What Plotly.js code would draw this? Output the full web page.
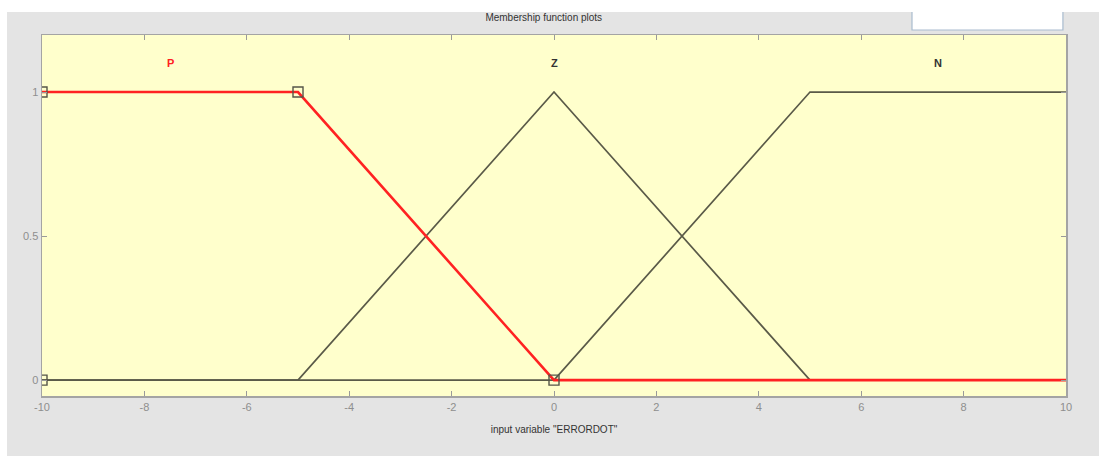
<!DOCTYPE html>
<html>
<head>
<meta charset="utf-8">
<script src="https://cdn.plot.ly/plotly-3.0.1.min.js"></script>
<style>
  html, body { margin: 0; padding: 0; background: #ffffff; width: 1099px; height: 456px; overflow: hidden; }
  #chart { position: absolute; left: 7px; top: 12px; width: 1092px; height: 444px; }
</style>
</head>
<body>
<div id="chart"></div>
<script>
// Membership functions of input variable "ERRORDOT"
const mfNames = ["P", "Z", "N"];
const xP = [-10, -5, 0, 10];
const yP = [1, 1, 0, 0];
const xZ = [-10, -5, 0, 5, 10];
const yZ = [0, 0, 1, 0, 0];
const xN = [-10, 0, 5, 10];
const yN = [0, 0, 1, 1];
// parameter handles of the selected MF (P)
const handleX = [-10, -10, -5, 0];
const handleY = [0, 1, 1, 0];
// label positions
const labelX = [-7.5, 0, 7.5];
const labelY = [1.1, 1.1, 1.1];
const xTicks = [-10, -8, -6, -4, -2, 0, 2, 4, 6, 8, 10];
const yTicks = [0, 0.5, 1];
const yTickText = ["0", "0.5", "1"];

const grey = "#5a5a48";
const traces = [
  { x: xZ, y: yZ, mode: "lines", line: { color: grey, width: 1.7 }, hoverinfo: "skip" },
  { x: xN, y: yN, mode: "lines", line: { color: grey, width: 1.7 }, hoverinfo: "skip" },
  { x: xP, y: yP, mode: "lines", line: { color: "#ff2222", width: 2.6 }, hoverinfo: "skip" },
  { x: handleX, y: handleY, mode: "markers", cliponaxis: true,
    marker: { symbol: "square-open", size: 10, color: "#555548", line: { width: 1.4, color: "#555548" } }, hoverinfo: "skip" }
];

const annotations = mfNames.map((n, i) => ({
  x: labelX[i], y: labelY[i], xref: "x", yref: "y", text: "<b>" + n + "</b>", showarrow: false,
  font: { family: "Liberation Sans, Arial, sans-serif", size: 11, color: i === 0 ? "#ff2020" : "#333333" }
}));

const layout = {
  width: 1092, height: 444,
  paper_bgcolor: "#e4e4e4",
  plot_bgcolor: "#ffffcc",
  margin: { l: 35, r: 33, t: 23, b: 60 },
  showlegend: false,
  font: { family: "Liberation Sans, Arial, sans-serif" },
  title: {
    text: "Membership function plots",
    font: { size: 10, color: "#333333" },
    xref: "paper", x: 0.49, xanchor: "center",
    yref: "container", y: 0.987, yanchor: "middle"
  },
  xaxis: {
    range: [-10, 10], tickvals: xTicks, ticktext: xTicks.map(String),
    ticks: "inside", ticklen: 5, tickcolor: "#9a9a9a", tickwidth: 1,
    showline: true, linecolor: "#a4a4a4", linewidth: 1.5, mirror: "ticks",
    showgrid: false, zeroline: false, fixedrange: true,
    tickfont: { size: 11, color: "#8e8e8e" },
    title: { text: "input variable \"ERRORDOT\"", font: { size: 10, color: "#333333" }, standoff: 14 }
  },
  yaxis: {
    range: [-0.055, 1.198], tickvals: yTicks, ticktext: yTickText,
    ticks: "inside", ticklen: 5, tickcolor: "#9a9a9a", tickwidth: 1,
    showline: true, linecolor: "#a4a4a4", linewidth: 1.5, mirror: "ticks",
    showgrid: false, zeroline: false, fixedrange: true,
    tickfont: { size: 11, color: "#8e8e8e" }
  },
  annotations: annotations,
  shapes: [
    { type: "rect", xref: "paper", yref: "paper", x0: 0.8496, x1: 0.997, y0: 1.0139, y1: 1.2,
      fillcolor: "#ffffff", line: { color: "#a9bccf", width: 1.2 }, layer: "above" }
  ]
};

Plotly.newPlot("chart", traces, layout, { staticPlot: true, displayModeBar: false });
</script>
</body>
</html>
